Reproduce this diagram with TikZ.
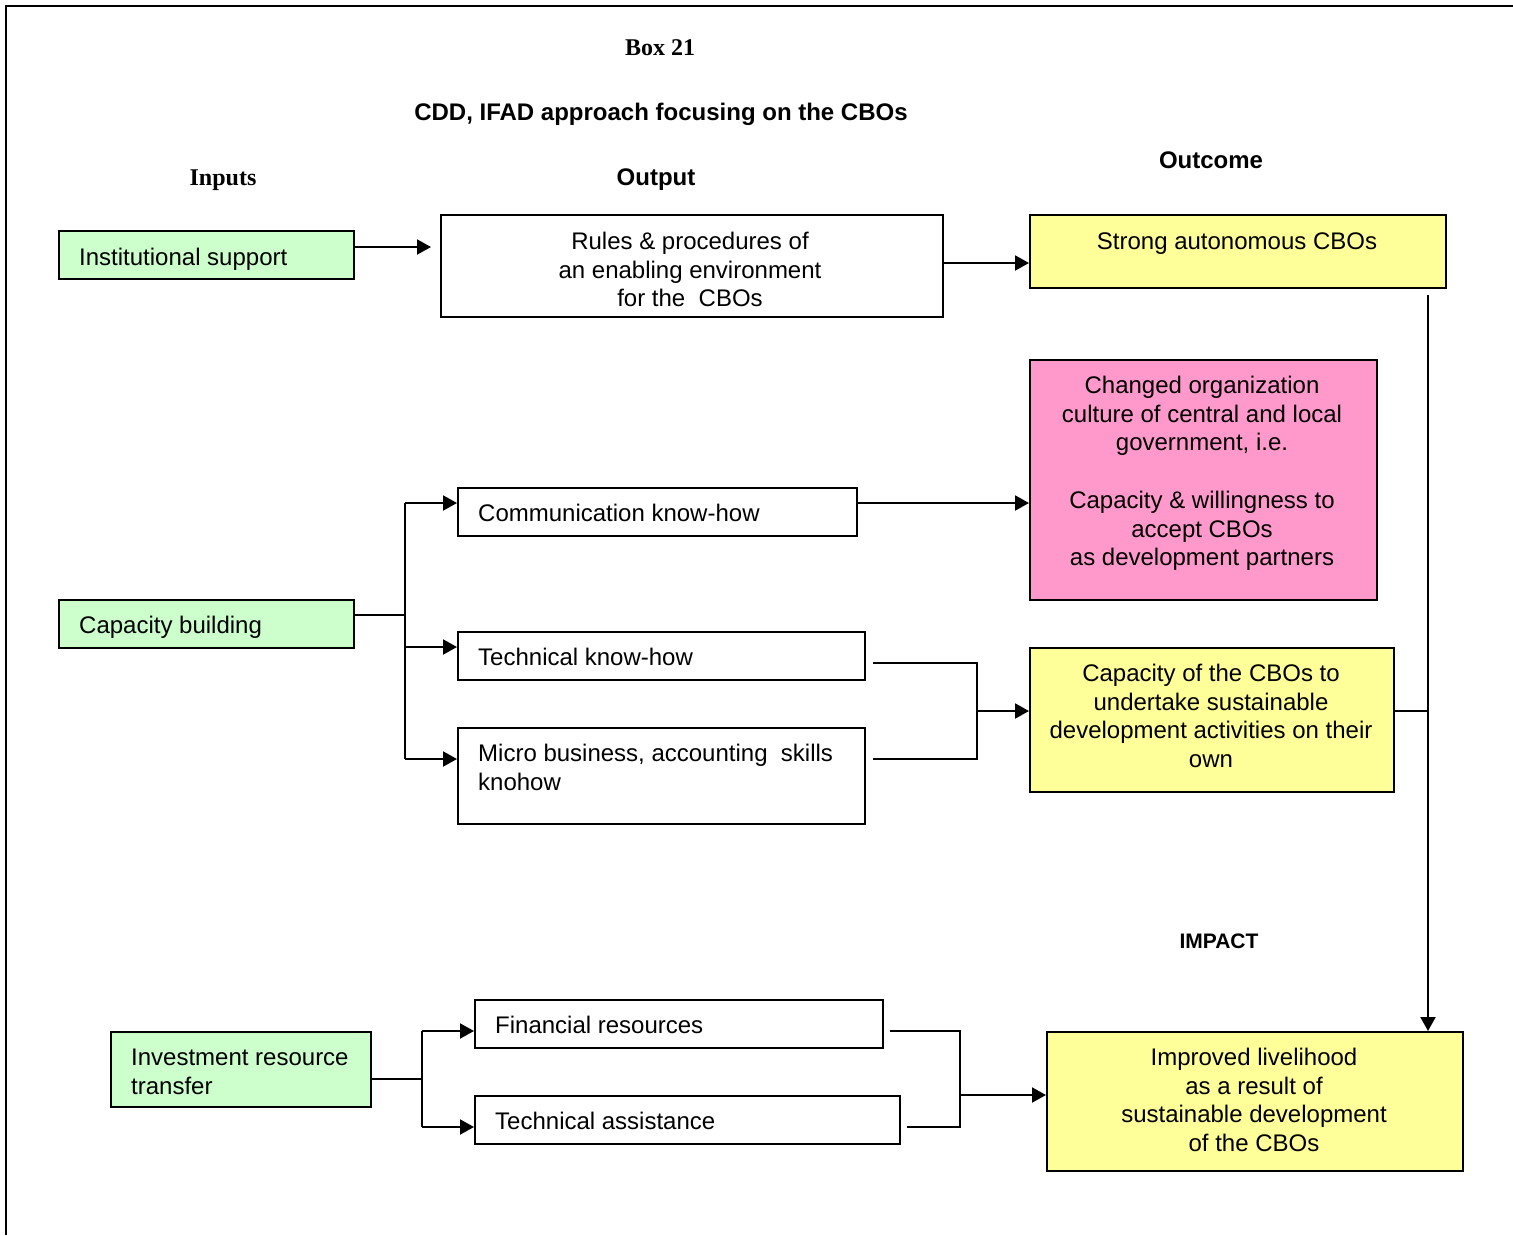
\documentclass[tikz,border=0pt]{standalone}
\usepackage{fontspec}
\setmainfont{Liberation Sans}
\newfontfamily\tmsfont{Liberation Serif}
\usetikzlibrary{arrows.meta}
\definecolor{gfill}{HTML}{CCFFCC}
\definecolor{yfill}{HTML}{FFFF99}
\definecolor{pfill}{HTML}{FF99CC}
\begin{document}
\begin{tikzpicture}[x=1pt,y=-1pt,
  bx/.style={draw, line width=2pt, inner sep=0pt, anchor=north west},
  txt/.style={inner sep=0pt, font=\fontsize{24}{28.7}\selectfont},
  hd/.style={inner sep=0pt, anchor=base, font=\fontsize{24}{28.7}\selectfont\bfseries},
  ln/.style={line width=2pt},
  arr/.style={line width=2pt, -{Triangle[length=14pt,width=15pt]}}]
\useasboundingbox (0,0) rectangle (1513,1235);
\fill[white] (0,0) rectangle (1513,1235);
% frame
\draw[line width=2pt] (1513,6) -- (6,6) -- (6,1235);

% headings
\node[hd, font=\fontsize{24}{28.7}\selectfont\tmsfont\bfseries] (hbox) at (660,55) {Box 21};
\node[hd] (htitle) at (661,120.5) {CDD, IFAD approach focusing on the CBOs};
\node[hd, font=\fontsize{24}{28.7}\selectfont\tmsfont\bfseries] (hin) at (223,185) {Inputs};
\node[hd] (hout) at (656,185.5) {Output};
\node[hd] (hoc) at (1211,168.5) {Outcome};
\node[hd, font=\fontsize{21}{25}\selectfont\bfseries] (himp) at (1219,948.5) {IMPACT};

% boxes
\node[bx, fill=gfill, minimum width=295pt, minimum height=48pt] (inst) at (58,230) {};
\node[bx, minimum width=502pt, minimum height=102pt] (rules) at (440,214) {};
\node[bx, fill=yfill, minimum width=416pt, minimum height=73pt] (strong) at (1029,214) {};
\node[bx, fill=pfill, minimum width=347pt, minimum height=240pt] (changed) at (1029,359) {};
\node[bx, minimum width=399pt, minimum height=48pt] (comm) at (457,487) {};
\node[bx, fill=gfill, minimum width=295pt, minimum height=48pt] (capb) at (58,599) {};
\node[bx, minimum width=407pt, minimum height=48pt] (tech) at (457,631) {};
\node[bx, minimum width=407pt, minimum height=96pt] (micro) at (457,727) {};
\node[bx, fill=yfill, minimum width=364pt, minimum height=144pt] (capcbo) at (1029,647) {};
\node[bx, fill=gfill, minimum width=260pt, minimum height=75pt] (invest) at (110,1031) {};
\node[bx, minimum width=408pt, minimum height=48pt] (fin) at (474,999) {};
\node[bx, minimum width=425pt, minimum height=48pt] (ta) at (474,1095) {};
\node[bx, fill=yfill, minimum width=416pt, minimum height=139pt] (impr) at (1046,1031) {};

% texts (base anchor = baseline of the last line)
\node[txt, anchor=base west] (tinst) at (79,265.5) {Institutional support};
\node[txt, anchor=base, align=center] (trules) at (690,306.9) {Rules \& procedures of\\an enabling environment\\for the\ \ CBOs};
\node[txt, anchor=base] (tstrong) at (1237,249.5) {Strong autonomous CBOs};
\node[txt, anchor=base, align=center] (tchanged) at (1202,565.7) {Changed organization\\culture of central and local\\government, i.e.\\[28.7pt]Capacity \& willingness to\\accept CBOs\\as development partners};
\node[txt, anchor=base west] (tcomm) at (478,521.5) {Communication know-how};
\node[txt, anchor=base west] (tcapb) at (79,633.5) {Capacity building};
\node[txt, anchor=base west] (ttech) at (478,665.5) {Technical know-how};
\node[txt, anchor=base west, align=left] (tmicro) at (478,790.2) {Micro business, accounting\ \ skills\\knohow};
\node[txt, anchor=base, align=center] (tcapcbo) at (1211,767.6) {Capacity of the CBOs to\\undertake sustainable\\development activities on their\\own};
\node[txt, anchor=base west, align=left] (tinvest) at (131,1094.2) {Investment resource\\transfer};
\node[txt, anchor=base west] (tfin) at (495,1033.5) {Financial resources};
\node[txt, anchor=base west] (tta) at (495,1129.5) {Technical assistance};
\node[txt, anchor=base, align=center] (timpr) at (1254,1151.6) {Improved livelihood\\as a result of\\sustainable development\\of the CBOs};

% junction coordinates
\coordinate (a1) at (0,247);
\coordinate (cb) at (405,615);
\coordinate (cbT) at (405,503);
\coordinate (cbM) at (405,647);
\coordinate (cbB) at (405,759);
\coordinate (m1) at (873,663);
\coordinate (m2) at (977,663);
\coordinate (m3) at (977,759);
\coordinate (m4) at (873,759);
\coordinate (mj) at (977,711);
\coordinate (vt) at (1428,295);
\coordinate (vj) at (1428,711);
\coordinate (ib) at (422,1079);
\coordinate (ibT) at (422,1031);
\coordinate (ibB) at (422,1127);
\coordinate (f1) at (890,1031);
\coordinate (f2) at (960,1031);
\coordinate (f3) at (960,1127);
\coordinate (f4) at (907,1127);
\coordinate (fj) at (960,1095);

% connectors
\draw[arr, shorten >=9pt] (inst.east |- a1) -- (rules.west |- a1);
\draw[arr] (rules.east |- 0,263) -- (strong.west |- 0,263);
\draw[ln] (capb.east |- cb) -- (cb);
\draw[ln] (cbT) -- (cbB);
\draw[arr] (cbT) -- (comm.west |- cbT);
\draw[arr] (cbM) -- (tech.west |- cbM);
\draw[arr] (cbB) -- (micro.west |- cbB);
\draw[arr] (comm.east |- cbT) -- (changed.west |- cbT);
\draw[ln] (m1) -- (m2) -- (m3) -- (m4);
\draw[arr] (mj) -- (capcbo.west |- mj);
\draw[ln] (capcbo.east |- vj) -- (vj);
\draw[arr] (vt) -- (impr.north -| vt);
\draw[ln] (invest.east |- ib) -- (ib);
\draw[ln] (ibT) -- (ibB);
\draw[arr] (ibT) -- (fin.west |- ibT);
\draw[arr] (ibB) -- (ta.west |- ibB);
\draw[ln] (f1) -- (f2) -- (f3) -- (f4);
\draw[arr] (fj) -- (impr.west |- fj);
\end{tikzpicture}
\end{document}
